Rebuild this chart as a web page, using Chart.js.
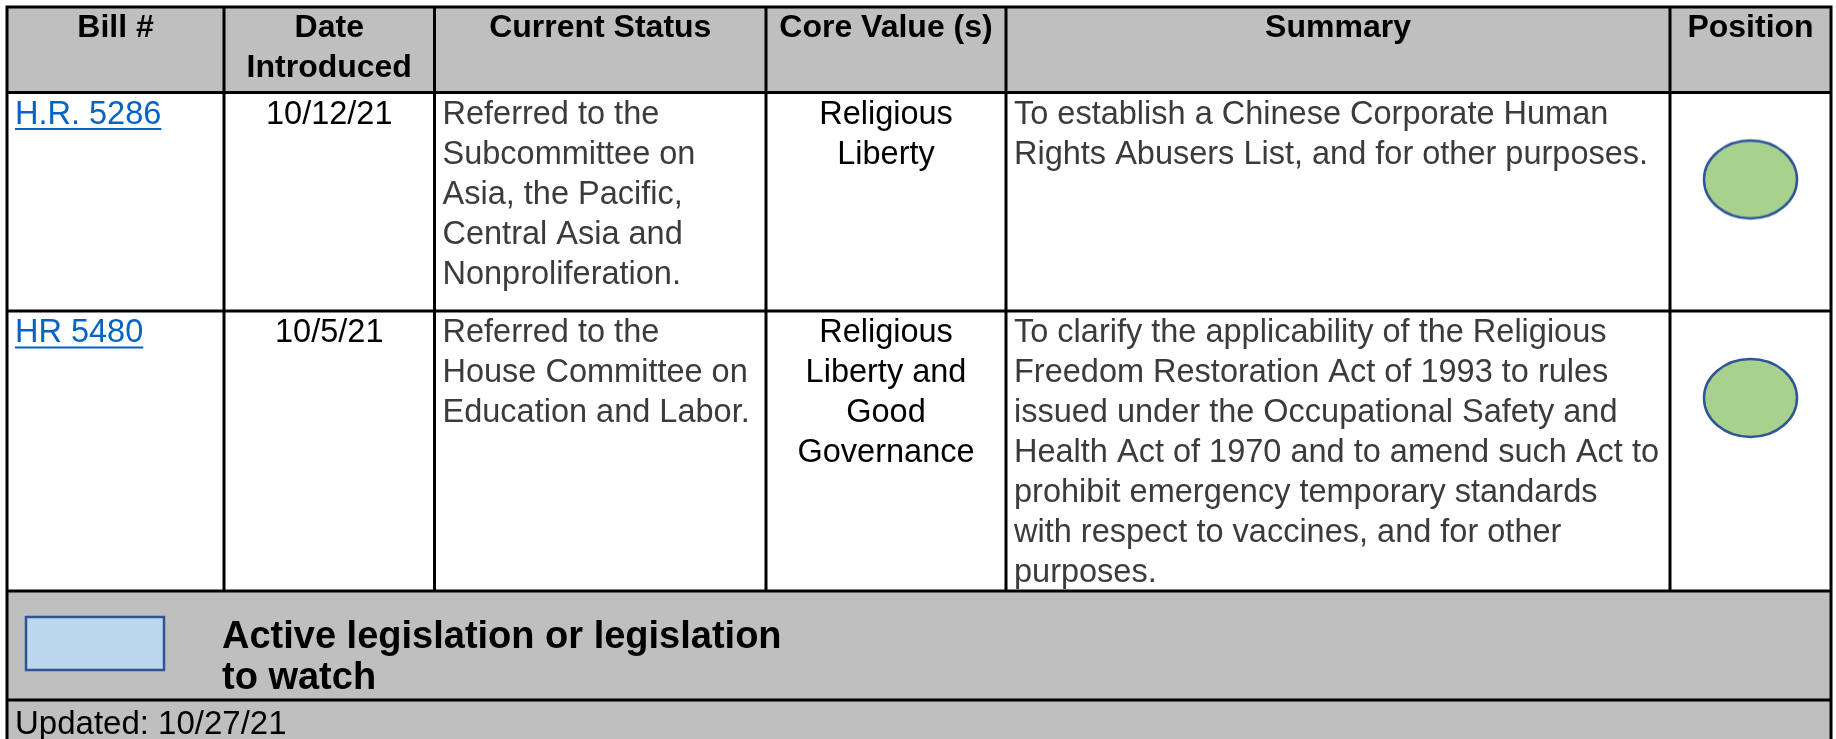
<!DOCTYPE html>
<html>
<head>
<meta charset="utf-8">
<style>
  html, body { margin: 0; padding: 0; background: #ffffff; }
  #wrap { width: 1836px; height: 739px; overflow: hidden; }
  canvas { display: block; }
</style>
<script src="https://cdn.jsdelivr.net/npm/chart.js@4/dist/chart.umd.min.js"></script>
</head>
<body>
<div id="wrap"><canvas id="c" width="1836" height="739"></canvas></div>
<script>
// ---------------- DATA ----------------
const headers = [["Bill #"], ["Date", "Introduced"], ["Current Status"], ["Core Value (s)"], ["Summary"], ["Position"]];
const billNumbers = ["H.R. 5286", "HR 5480"];
const datesIntroduced = ["10/12/21", "10/5/21"];
const currentStatus = [
  ["Referred to the", "Subcommittee on", "Asia, the Pacific,", "Central Asia and", "Nonproliferation."],
  ["Referred to the", "House Committee on", "Education and Labor."]
];
const coreValues = [
  ["Religious", "Liberty"],
  ["Religious", "Liberty and", "Good", "Governance"]
];
const summaries = [
  ["To establish a Chinese Corporate Human", "Rights Abusers List, and for other purposes."],
  ["To clarify the applicability of the Religious", "Freedom Restoration Act of 1993 to rules",
   "issued under the Occupational Safety and", "Health Act of 1970 and to amend such Act to",
   "prohibit emergency temporary standards", "with respect to vaccines, and for other", "purposes."]
];
const positions = ["support", "support"];
const legendLabel = ["Active legislation or legislation", "to watch"];
const updatedLabel = "Updated: 10/27/21";

// ---------------- LAYOUT (table grid in scale units) ----------------
const layout = {
  colEdges: [7, 224, 434.5, 766, 1006, 1670, 1831],
  rowEdges: [7, 92.5, 311, 591, 700, 760],
  lineW: 3,
  lineH: 40,
  firstLine: 22.5,
  markerOffset: 87,
  pad: 8
};
const styles = {
  font: '"Liberation Sans", Arial, Helvetica, sans-serif',
  headerBg: '#bfbfbf',
  grid: '#000000',
  dark: '#000000',
  grey: '#3b3b3b',
  link: '#0563c1',
  posFill: '#a9d18e',
  posStroke: '#2f5597',
  legendFill: '#bdd7ee'
};

// ellipse marker image used as the point style
function makeEllipse(rx, ry) {
  const cv = document.createElement('canvas');
  cv.width = Math.ceil(rx * 2 + 6);
  cv.height = Math.ceil(ry * 2 + 6);
  const g = cv.getContext('2d');
  g.beginPath();
  g.ellipse(cv.width / 2, cv.height / 2, rx, ry, 0, 0, Math.PI * 2);
  g.fillStyle = styles.posFill;
  g.fill();
  g.lineWidth = 2.5;
  g.strokeStyle = styles.posStroke;
  g.stroke();
  return cv;
}
const ellipseImg = makeEllipse(46.5, 39);

const posColCenter = (layout.colEdges[5] + layout.colEdges[6]) / 2;
const markerData = positions.map((p, i) => ({ x: posColCenter, y: layout.rowEdges[i + 1] + layout.markerOffset, v: p }));

const tablePlugin = {
  id: 'tablePlugin',
  beforeDatasetsDraw(chart) {
    const { ctx, scales } = chart;
    const X = v => scales.x.getPixelForValue(v);
    const Y = v => scales.y.getPixelForValue(v);
    const ce = layout.colEdges, re = layout.rowEdges;
    ctx.save();
    ctx.fillStyle = '#ffffff';
    ctx.fillRect(X(ce[0]), Y(re[1]), X(ce[6]) - X(ce[0]), Y(re[3]) - Y(re[1]));
    ctx.fillStyle = styles.headerBg;
    ctx.fillRect(X(ce[0]), Y(re[0]), X(ce[6]) - X(ce[0]), Y(re[1]) - Y(re[0]));
    ctx.fillRect(X(ce[0]), Y(re[3]), X(ce[6]) - X(ce[0]), Y(re[5]) - Y(re[3]));

    // legend swatch
    ctx.fillStyle = styles.legendFill;
    ctx.strokeStyle = styles.posStroke;
    ctx.lineWidth = 2.5;
    ctx.fillRect(X(26), Y(617), X(164) - X(26), Y(670) - Y(617));
    ctx.strokeRect(X(26), Y(617), X(164) - X(26), Y(670) - Y(617));

    // grid lines
    ctx.strokeStyle = styles.grid;
    ctx.lineWidth = layout.lineW;
    ctx.beginPath();
    for (let r = 0; r < 5; r++) {
      ctx.moveTo(X(ce[0]) - 1.5, Y(re[r]));
      ctx.lineTo(X(ce[6]) + 1.5, Y(re[r]));
    }
    ctx.moveTo(X(ce[0]), Y(re[0]));
    ctx.lineTo(X(ce[0]), Y(re[5]));
    ctx.moveTo(X(ce[6]), Y(re[0]));
    ctx.lineTo(X(ce[6]), Y(re[5]));
    for (let c = 1; c < 6; c++) {
      ctx.moveTo(X(ce[c]), Y(re[0]));
      ctx.lineTo(X(ce[c]), Y(re[3]));
    }
    ctx.stroke();
    ctx.restore();
  },
  afterDatasetsDraw(chart) {
    const { ctx, scales } = chart;
    const X = v => scales.x.getPixelForValue(v);
    const Y = v => scales.y.getPixelForValue(v);
    const ce = layout.colEdges, re = layout.rowEdges;
    const LH = layout.lineH;
    function lines(arr, x, yTop, align, font, color, lh) {
      ctx.font = font;
      ctx.fillStyle = color;
      ctx.textAlign = align;
      ctx.textBaseline = 'middle';
      arr.forEach((t, i) => ctx.fillText(t, X(x), Y(yTop + i * (lh || LH))));
    }
    ctx.save();
    const bold = 'bold 32px ' + styles.font;
    const reg = '32.5px ' + styles.font;
    headers.forEach((h, c) => {
      lines(h, (ce[c] + ce[c + 1]) / 2, re[0] + 21.5, 'center', bold, '#000');
    });
    for (let r = 0; r < billNumbers.length; r++) {
      const top = re[r + 1] + layout.firstLine;
      ctx.font = reg;
      lines([billNumbers[r]], ce[0] + layout.pad, top, 'left', reg, styles.link);
      const w = ctx.measureText(billNumbers[r]).width;
      ctx.strokeStyle = styles.link;
      ctx.lineWidth = 2;
      ctx.beginPath();
      ctx.moveTo(X(ce[0] + layout.pad), Y(top + 14));
      ctx.lineTo(X(ce[0] + layout.pad) + w, Y(top + 14));
      ctx.stroke();
      lines([datesIntroduced[r]], (ce[1] + ce[2]) / 2, top, 'center', reg, styles.dark);
      lines(currentStatus[r], ce[2] + layout.pad, top, 'left', reg, styles.grey);
      lines(coreValues[r], (ce[3] + ce[4]) / 2, top, 'center', reg, styles.dark);
      lines(summaries[r], ce[4] + layout.pad, top, 'left', reg, styles.grey);
    }
    lines(legendLabel, 222, re[3] + 46.5, 'left', 'bold 38px ' + styles.font, '#000', 41);
    lines([updatedLabel], ce[0] + layout.pad, re[4] + 24.5, 'left', '33px ' + styles.font, '#000');
    ctx.restore();
  }
};

new Chart(document.getElementById('c'), {
  type: 'scatter',
  data: {
    datasets: [{
      label: 'Position',
      data: markerData,
      pointStyle: ellipseImg,
      pointRadius: 40,
      pointHoverRadius: 40,
      backgroundColor: styles.posFill,
      borderColor: styles.posStroke,
      clip: false
    }]
  },
  options: {
    responsive: false,
    devicePixelRatio: 1,
    animation: false,
    events: [],
    layout: { padding: 0, autoPadding: false },
    scales: {
      x: { type: 'linear', min: 0, max: 1836, display: false },
      y: { type: 'linear', min: 0, max: 739, reverse: true, display: false }
    },
    plugins: {
      legend: { display: false },
      tooltip: { enabled: false }
    }
  },
  plugins: [tablePlugin]
});
</script>
</body>
</html>
